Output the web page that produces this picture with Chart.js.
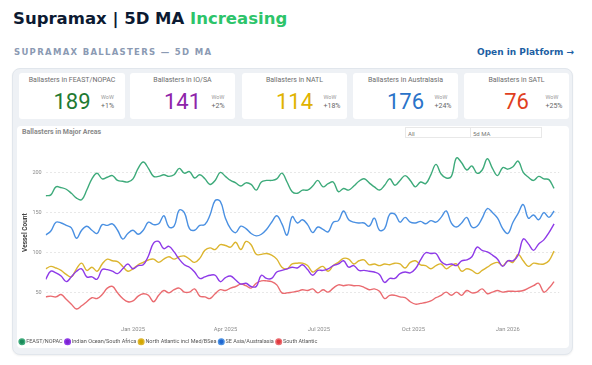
<!DOCTYPE html>
<html>
<head>
<meta charset="utf-8">
<title>Supramax Ballasters</title>
<script src="https://cdn.jsdelivr.net/npm/chart.js@4.4.0/dist/chart.umd.min.js"></script>
<style>
  body { margin: 0; width: 592px; height: 365px; background: #fff; position: relative; overflow: hidden; font-family: "DejaVu Sans", sans-serif; }
  .title { position: absolute; left: 13px; top: 9px; font-weight: bold; font-size: 16.5px; line-height: 20px; color: #0c1a32; white-space: nowrap; }
  .title .up { color: #2dc46a; }
  .sub { position: absolute; left: 14px; top: 47px; font-weight: bold; font-size: 8.5px; line-height: 11px; letter-spacing: 1.3px; color: #8b9ab3; white-space: nowrap; }
  .link { position: absolute; right: 18px; top: 46px; font-weight: bold; font-size: 9px; line-height: 12px; color: #1d5fa3; white-space: nowrap; }
  .frame { position: absolute; left: 12px; top: 68px; width: 559px; height: 285px; background: #eef1f5; border: 1px solid #e1e6ec; border-radius: 8px; box-shadow: 0 1px 2px rgba(0,0,0,0.06); }
  .kpi { position: absolute; top: 73px; height: 46px; background: #fff; border-radius: 3px; font-family: Roboto, sans-serif; }
  .kpi .t { position: absolute; left: 0; right: 0; top: 3px; text-align: center; font-size: 7px; line-height: 9px; color: #6d6d6d; white-space: nowrap; }
  .kpi .v { position: absolute; left: 0; right: 0; top: 16px; text-align: center; font-size: 22px; line-height: 26px; }
  .kpi .w { position: absolute; left: calc(50% + 29px); top: 21px; font-size: 5.5px; line-height: 7px; color: #9a9a9a; }
  .kpi .p { font-size: 7px; line-height: 10px; color: #666; }
  .panel { position: absolute; left: 17px; top: 126px; width: 552px; height: 222px; background: #fff; border-radius: 4px; }
  .panel .h { position: absolute; left: 5px; top: 2px; font-family: Roboto, sans-serif; font-weight: bold; font-size: 7px; line-height: 9px; color: #8a8a8a; }
  .btn { position: absolute; top: 1px; height: 11px; border: 1px solid #e8e8e8; font-family: Roboto, sans-serif; font-size: 6px; line-height: 11px; color: #777; padding-left: 2px; box-sizing: border-box; }
  #c { position: absolute; left: 17px; top: 126px; }
</style>
</head>
<body>
<div class="title">Supramax | 5D MA <span class="up">Increasing</span></div>
<div class="sub">SUPRAMAX BALLASTERS — 5D MA</div>
<div class="link">Open in Platform →</div>
<div class="frame"></div>
<div class="panel">
  <div class="h">Ballasters in Major Areas</div>
  <div class="btn" style="left:388px;width:66px;">All</div>
  <div class="btn" style="left:453px;width:72px;">5d MA</div>
</div>
<canvas id="c" width="552" height="230"></canvas>
<script>
// kpi cards
const kpiTitles = ["Ballasters in FEAST/NOPAC", "Ballasters in IO/SA", "Ballasters in NATL", "Ballasters in Australasia", "Ballasters in SATL"];
const kpiValues = [189, 141, 114, 176, 76];
const kpiWow = ["+1%", "+2%", "+18%", "+24%", "+25%"];
const kpiColors = ["#1f7a33", "#8e24aa", "#e0b300", "#2a73c9", "#e0401e"];
const kpiLeft = [19, 130, 242, 353, 464];

// chart series (5 day steps starting 8 Oct 2024)
const seriesNames = ["FEAST/NOPAC", "Indian Ocean/South Africa", "North Atlantic incl Med/BSea", "SE Asia/Australasia", "South Atlantic"];
const feastNopac = [171,172,182,181,179,174,168,166,178,192,
  199,192,194,196,190,189,188,192,205,213,
  205,195,195,197,195,
  197,205,199,201,193,197,192,185,190,200,
  195,190,187,183,187,185,178,188,190,190,
  192,199,188,176,174,
  178,178,183,190,182,186,188,176,180,178,
  183,189,192,187,182,178,184,192,184,190,
  196,190,182,188,186,197,
  210,198,193,195,218,212,203,208,199,203,
  217,205,196,206,204,207,214,200,194,190,
  195,192,191,180];
const indianOcean = [67,77,75,71,64,70,77,80,70,70,
  67,79,79,77,74,80,86,80,84,85,
  96,112,114,105,108,
  101,92,85,82,76,68,70,72,72,64,
  69,71,66,61,62,58,58,72,68,68,
  76,78,80,82,81,
  85,79,72,78,78,80,84,86,90,82,
  84,78,78,77,76,73,63,68,68,74,
  76,75,80,91,100,99,
  99,89,85,86,84,90,91,95,107,103,
  101,97,92,83,90,90,97,117,111,103,
  111,116,125,136];
const northAtlantic = [80,83,81,78,73,70,80,87,78,82,
  77,86,92,90,89,83,77,80,85,88,
  91,92,88,92,95,
  92,95,96,92,88,93,103,106,104,110,
  109,107,113,104,114,110,98,98,99,97,
  92,82,80,86,87,
  87,84,76,80,83,77,84,88,93,92,
  86,90,91,85,86,84,86,85,87,86,
  81,88,90,85,84,80,
  84,86,80,84,86,77,80,78,74,78,
  82,86,88,84,90,88,98,90,83,87,
  86,86,90,102];
const seAsia = [122,127,138,137,134,131,118,128,133,128,
  124,135,134,136,128,117,124,128,123,128,
  138,135,136,146,132,
  133,153,150,130,128,134,135,147,165,164,
  143,130,125,133,130,124,121,123,129,138,
  146,136,122,145,137,
  141,135,125,132,129,126,138,140,152,141,
  138,137,137,133,143,128,130,148,148,138,
  144,138,137,139,136,140,
  138,144,152,137,132,137,144,132,133,143,
  155,150,143,130,124,138,149,160,143,147,
  141,150,144,152];
const southAtlantic = [45,46,45,48,42,36,30,34,39,44,
  43,48,56,58,50,43,39,40,46,49,
  47,39,47,53,50,
  54,56,51,51,55,46,45,43,49,54,
  53,56,58,61,59,56,62,65,65,64,
  60,50,50,51,52,
  54,53,55,50,54,51,56,60,59,60,
  59,59,57,54,55,52,43,47,47,45,
  44,39,36,37,38,40,
  44,47,51,47,51,47,53,50,51,55,
  49,51,53,51,52,52,52,53,56,59,
  62,51,56,64];
const allSeries = [feastNopac, indianOcean, northAtlantic, seAsia, southAtlantic];
const lineColors = ["#3daa7a", "#8e3ae8", "#dcb52f", "#4a90e2", "#ea6b70"];
const markerColors = ["#1a8a5a", "#7b22d0", "#d4a800", "#1f66d0", "#e0393e"];

const startDate = "2024-10-08";
const stepDays = 5;
const tickDates = ["2025-01-01", "2025-04-01", "2025-07-01", "2025-10-01", "2026-01-01"];
const yTicks = [50, 100, 150, 200];
const monthNames = ["Jan","Feb","Mar","Apr","May","Jun","Jul","Aug","Sep","Oct","Nov","Dec"];

// build the kpi cards
kpiTitles.forEach((t, i) => {
  const card = document.createElement("div");
  card.className = "kpi";
  card.style.left = kpiLeft[i] + "px";
  card.style.width = (i === 0 ? 106 : 105) + "px";
  card.innerHTML = `<div class="t">${t}</div>
    <div class="v" style="color:${kpiColors[i]}">${kpiValues[i]}</div>
    <div class="w">WoW<div class="p">${kpiWow[i]}</div></div>`;
  document.body.insertBefore(card, document.querySelector(".panel"));
});

const dayMs = 86400000;
const dayOf = d => Math.round((Date.parse(d) - Date.parse(startDate)) / dayMs);
const dates = feastNopac.map((_, i) => new Date(Date.parse(startDate) + i * stepDays * dayMs).toISOString().slice(0, 10));
const tickDays = tickDates.map(dayOf);
const tickLabels = {};
tickDates.forEach(d => {
  tickLabels[dayOf(d)] = monthNames[Number(d.slice(5, 7)) - 1] + " " + d.slice(0, 4);
});

new Chart(document.getElementById("c"), {
  type: "line",
  data: {
    datasets: seriesNames.map((name, k) => ({
      label: name,
      data: dates.map((d, i) => ({ x: dayOf(d), y: allSeries[k][i] })),
      borderColor: lineColors[k],
      backgroundColor: markerColors[k],
      borderWidth: 1.4,
      pointRadius: 0,
      tension: 0.4,
      fill: false
    }))
  },
  options: {
    responsive: false,
    animation: false,
    layout: { padding: { top: 26.3, right: 9.8, bottom: 1.5, left: 0 } },
    plugins: {
      tooltip: { enabled: false },
      legend: {
        position: "bottom",
        align: "start",
        labels: {
          usePointStyle: true,
          pointStyle: "circle",
          boxWidth: 3,
          boxHeight: 4,
          padding: 3.4,
          color: "#555",
          font: { family: "Roboto", size: 5.5 }
        }
      }
    },
    scales: {
      x: {
        type: "linear",
        min: 0,
        max: 500,
        grid: { display: false },
        border: { display: false },
        ticks: {
          autoSkip: false,
          maxRotation: 0,
          padding: 5,
          color: "#8c8c8c",
          font: { family: "Roboto", size: 5.8 },
          callback: v => tickLabels[v] || ""
        },
        afterBuildTicks: axis => { axis.ticks = tickDays.map(v => ({ value: v })); },
        afterFit: axis => { axis.height = 22.6; }
      },
      y: {
        min: 25,
        max: 225,
        grid: { color: "#e3e3e3", lineWidth: 0.8, drawTicks: false },
        border: { display: false, dash: [2, 2] },
        ticks: { padding: 4, color: "#8c8c8c", font: { family: "Roboto", size: 5.5 } },
        afterBuildTicks: axis => { axis.ticks = yTicks.map(v => ({ value: v })); },
        title: {
          display: true,
          text: "Vessel Count",
          color: "#444",
          font: { family: "Roboto", size: 6.5, weight: "bold" },
          padding: { top: 4, bottom: 0 }
        },
        afterFit: axis => { axis.width = 28.7; }
      }
    }
  }
});
</script>
</body>
</html>
